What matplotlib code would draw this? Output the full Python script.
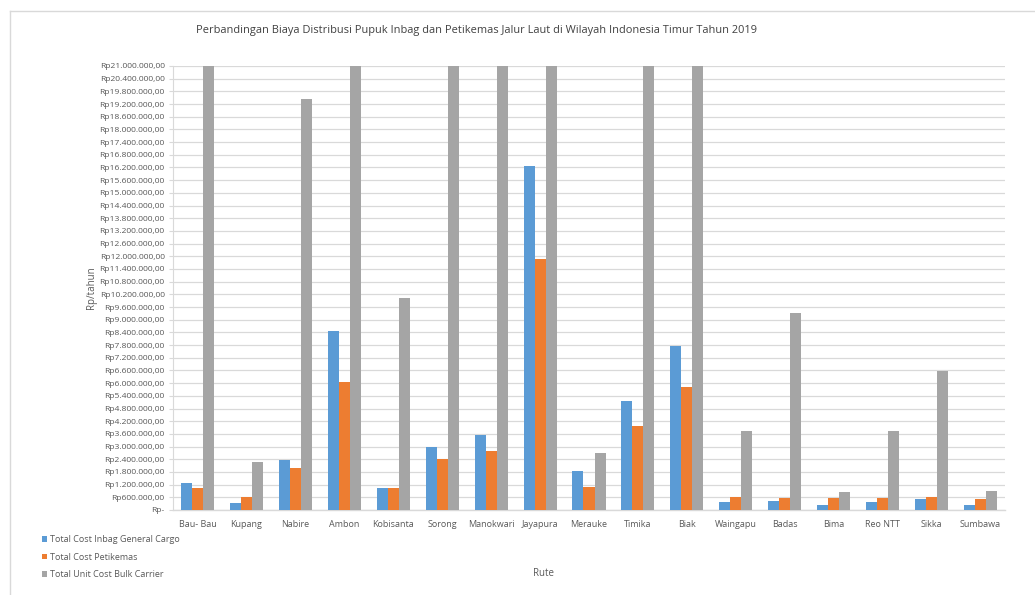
import numpy as np
import matplotlib.pyplot as plt
from matplotlib.lines import Line2D
from matplotlib.ticker import FuncFormatter, MultipleLocator

# =========================
# Data (Rp/tahun)
# =========================
rute = ["Bau- Bau", "Kupang", "Nabire", "Ambon", "Kobisanta", "Sorong",
        "Manokwari", "Jayapura", "Merauke", "Timika", "Biak", "Waingapu",
        "Badas", "Bima", "Reo NTT", "Sikka", "Sumbawa"]

inbag_general_cargo = [1300000, 340000, 2380000, 8470000, 1030000, 2970000,
                       3560000, 16260000, 1860000, 5140000, 7760000, 390000,
                       440000, 260000, 390000, 500000, 230000]

petikemas = [1050000, 610000, 2000000, 6050000, 1030000, 2390000,
             2800000, 11860000, 1080000, 3970000, 5800000, 610000,
             560000, 560000, 590000, 610000, 500000]

# values above 21 juta run off the top of the axis
bulk_carrier = [24000000, 2260000, 19440000, 24000000, 10050000, 24000000,
                24000000, 24000000, 2680000, 24000000, 24000000, 3760000,
                9340000, 860000, 3720000, 6560000, 920000]

series_names = ["Total Cost Inbag General Cargo", "Total Cost Petikemas",
                "Total Unit Cost Bulk Carrier"]
colors = ["#5B9BD5", "#ED7D31", "#A5A5A5"]

y_max = 21000000
y_step = 600000

# =========================
# Formatting
# =========================
def rupiah(v, pos=None):
    if v == 0:
        return "Rp-"
    s = f"{int(round(v)):,}".replace(",", ".")
    return f"Rp{s},00"

plt.rcParams["font.family"] = ["Open Sans", "DejaVu Sans"]
text_col = "#595959"

fig = plt.figure(figsize=(10.35, 5.95), dpi=100)
ax = fig.add_axes([173 / 1035, 1 - 510 / 595, 832 / 1035, 444 / 595])

x = np.arange(len(rute))
w = 0.225
for i, (vals, name, c) in enumerate(zip([inbag_general_cargo, petikemas, bulk_carrier],
                                         series_names, colors)):
    ax.bar(x + (i - 1) * w, vals, width=w, color=c, label=name, zorder=3)

ax.set_xlim(-0.5, len(rute) - 0.5)
ax.set_ylim(0, y_max)
ax.yaxis.set_major_locator(MultipleLocator(y_step))
ax.yaxis.set_major_formatter(FuncFormatter(rupiah))
ax.set_xticks(x)
ax.set_xticklabels(rute)

ax.grid(axis="y", color="#D9D9D9", linewidth=0.9, zorder=0)
for s in ["top", "right"]:
    ax.spines[s].set_visible(False)
ax.spines["left"].set_color("#D9D9D9")
ax.spines["bottom"].set_color("#D9D9D9")
ax.spines["bottom"].set_linewidth(1.0)
ax.tick_params(axis="y", length=3, color="#D9D9D9", labelsize=6.1,
               labelcolor=text_col, pad=3)
ax.tick_params(axis="x", length=0, labelsize=6.5, labelcolor=text_col, pad=7)

ax.set_ylabel("Rp/tahun", fontsize=7, color=text_col, labelpad=2)
fig.text(543 / 1035, 1 - 574 / 595, "Rute", fontsize=7, color=text_col,
         ha="center", va="center")
fig.text(477 / 1035, 1 - 31 / 595,
         "Perbandingan Biaya Distribusi Pupuk Inbag dan Petikemas Jalur Laut di Wilayah Indonesia Timur Tahun 2019",
         fontsize=7.9, color="#404040", ha="center", va="center")

handles, labels = ax.get_legend_handles_labels()
fig.legend(handles, labels, loc="upper left",
           bbox_to_anchor=(42 / 1035, 1 - 535 / 595), frameon=False,
           fontsize=6.5, labelcolor=text_col, handlelength=0.6,
           handleheight=0.6, handletextpad=0.3, labelspacing=0.95,
           borderpad=0, borderaxespad=0)

# chart frame
fig.add_artist(Line2D([10 / 1035, 1.0], [1 - 11 / 595] * 2,
                      transform=fig.transFigure, color="#D9D9D9", lw=1))
fig.add_artist(Line2D([10 / 1035] * 2, [0, 1 - 11 / 595],
                      transform=fig.transFigure, color="#D9D9D9", lw=1))

fig.savefig("out.png", dpi=100)
